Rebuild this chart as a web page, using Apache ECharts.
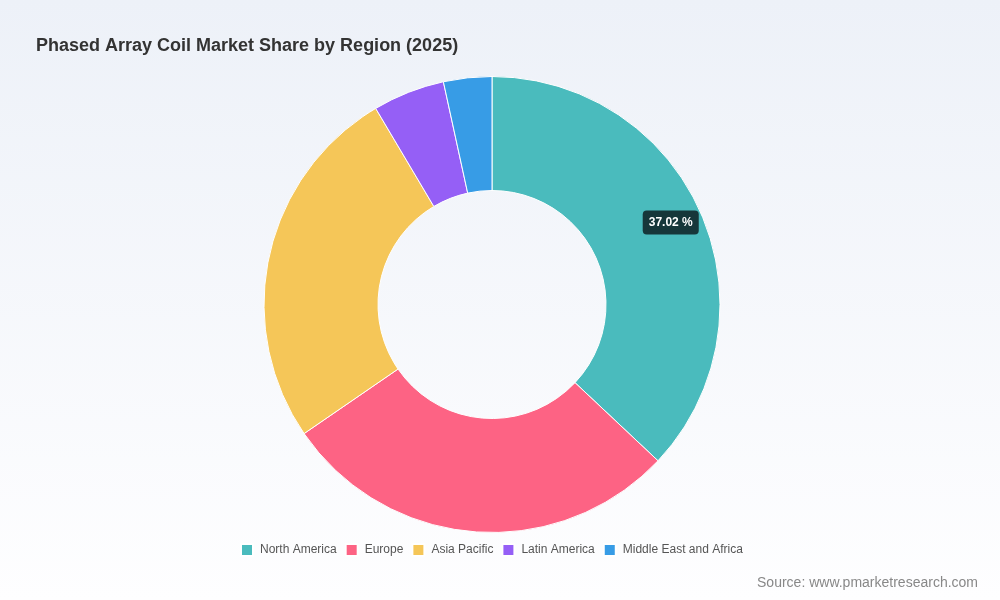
<!DOCTYPE html>
<html><head><meta charset="utf-8">
<script src="https://cdn.jsdelivr.net/npm/echarts@6/dist/echarts.min.js"></script>
<style>html,body{margin:0;padding:0;}#c{width:1000px;height:600px;}</style>
</head><body><div id="c"></div>
<script>
const categories = ['North America', 'Europe', 'Asia Pacific', 'Latin America', 'Middle East and Africa'];
const shares = [37.02, 28.40, 26.06, 5.10, 3.42];
const colors = ['#4ABBBD', '#FD6384', '#F5C658', '#955FF6', '#379CE6'];
const titleText = 'Phased Array Coil Market Share by Region (2025)';
const sourceText = 'Source: www.pmarketresearch.com';

const chart = echarts.init(document.getElementById('c'));
chart.setOption({
  backgroundColor: new echarts.graphic.LinearGradient(0, 0, 0, 1, [
    {offset: 0, color: '#EDF1F8'}, {offset: 1, color: '#FEFEFF'}
  ]),
  textStyle: {fontFamily: 'Liberation Sans, Arial, sans-serif'},
  title: {
    text: titleText, left: 31, top: 32,
    textStyle: {fontSize: 18, fontWeight: 'bold', color: '#333333', fontFamily: 'Liberation Sans, Arial, sans-serif'}
  },
  color: colors,
  legend: {
    bottom: 43, left: 240, padding: 0, itemWidth: 12, itemHeight: 12, itemGap: 8,
    icon: 'rect',
    textStyle: {fontSize: 12, color: '#555555', padding: [0, 0, 0, 2]},
    data: categories
  },
  graphic: [{
    type: 'text', right: 22, top: 576,
    style: {text: sourceText, fontSize: 14, fill: '#888888', fontFamily: 'Liberation Sans, Arial, sans-serif'}
  }],
  series: [{
    type: 'pie',
    center: [492, 304.5],
    radius: [114, 228],
    startAngle: 90,
    clockwise: true,
    avoidLabelOverlap: false,
    itemStyle: {borderColor: '#ffffff', borderWidth: 1},
    label: {show: false},
    labelLine: {show: false},
    data: categories.map((name, i) => {
      const d = {name: name, value: shares[i]};
      if (i === 0) {
        d.label = {
          show: true, position: 'inside', offset: [19, -13],
          formatter: (p) => p.value.toFixed(2) + ' %',
          backgroundColor: '#16373A', color: '#ffffff', fontSize: 12, fontWeight: 'bold',
          padding: [6, 6], borderRadius: 4
        };
      }
      return d;
    })
  }]
});
</script></body></html>
